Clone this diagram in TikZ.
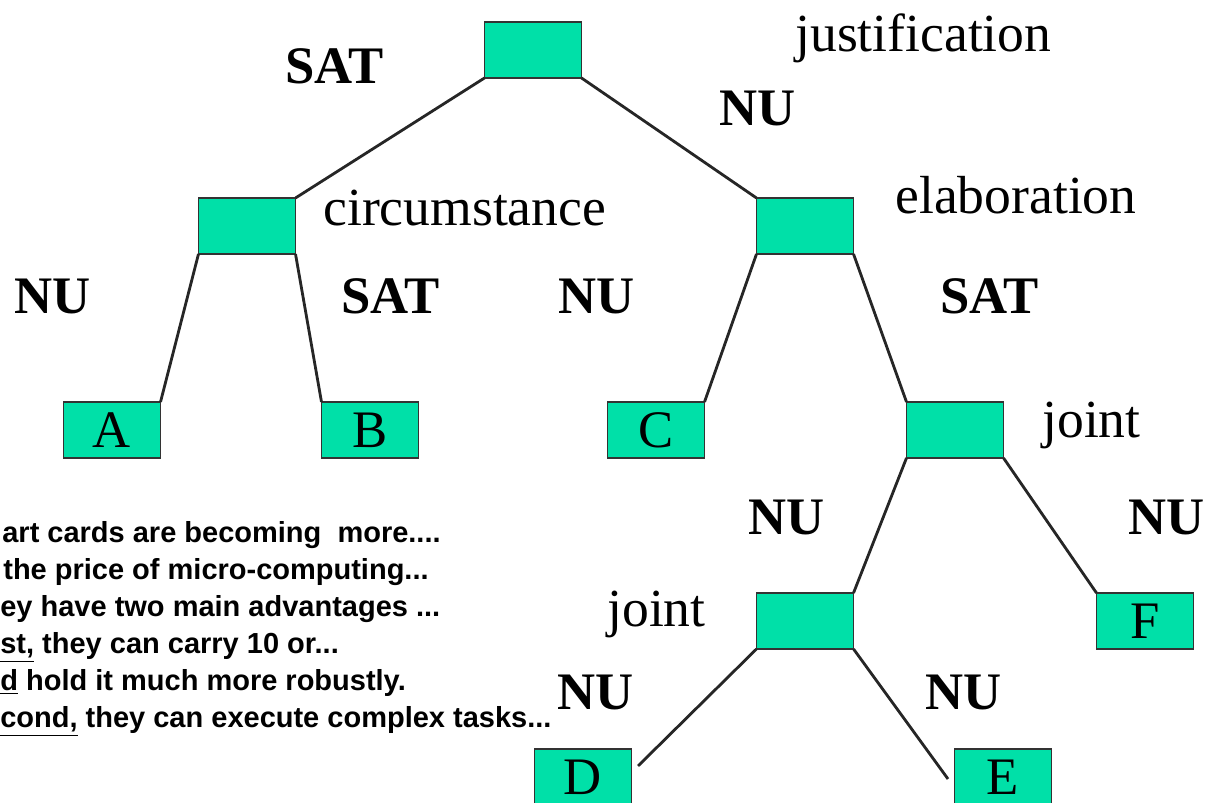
\documentclass[tikz,border=0pt]{standalone}
\usepackage{fontspec}
\setmainfont{Liberation Serif}
\newfontfamily\cardfont{Liberation Sans}
\usepackage{tkz-graph}

\definecolor{boxgreen}{RGB}{0,224,168}

\tikzset{relname/.style ={anchor=base west, inner sep=0pt, font=\fontsize{30.5}{36}\selectfont}}
\tikzset{nucl/.style ={anchor=base west, inner sep=0pt, font=\fontsize{30}{36}\selectfont\bfseries}}
\tikzset{cardline/.style ={anchor=base west, inner sep=0pt, font=\cardfont\bfseries\fontsize{16.5}{20}\selectfont}}

\begin{document}
\begin{tikzpicture}
\useasboundingbox (0,0) rectangle (24.16,16.06);
\GraphInit[vstyle=Empty]
\tikzset{VertexStyle/.style ={rectangle, draw=black!80, line width=.9pt, fill=boxgreen,
  minimum width=1.94cm, minimum height=1.12cm, inner sep=0pt, font=\fontsize{30}{36}\selectfont}}
\Vertex[x=10.66, y=15.06, NoLabel=true]{just}
\Vertex[x=4.94, y=11.54, NoLabel=true]{circ}
\Vertex[x=16.10, y=11.54, NoLabel=true]{elab}
\Vertex[x=2.24, y=7.46]{A}
\Vertex[x=7.40, y=7.46]{B}
\Vertex[x=13.12, y=7.46]{C}
\Vertex[x=19.10, y=7.46, NoLabel=true]{joinA}
\Vertex[x=16.10, y=3.64, NoLabel=true]{joinB}
\Vertex[x=22.90, y=3.64]{F}
\Vertex[x=11.66, y=0.52]{D}
\Vertex[x=20.06, y=0.52]{E}
\coordinate (dtip) at (12.76, 0.74);
\coordinate (etip) at (18.96, 0.48);
\tikzset{EdgeStyle/.style ={line width=1.6pt, black!85}}
\tikzset{LabelStyle/.style ={fill=none, draw=none}}
\Edge(just.south west)(circ.north east)
\Edge(just.south east)(elab.north west)
\Edge(circ.south west)(A.north east)
\Edge(circ.south east)(B.north west)
\Edge(elab.south west)(C.north east)
\Edge(elab.south east)(joinA.north west)
\Edge(joinA.south west)(joinB.north east)
\Edge(joinA.south east)(F.north west)
\Edge(joinB.south west)(dtip)
\Edge(joinB.south east)(etip)
% relation names
\node[relname] (rjust) at (15.90, 15.02) {justification};
\node[relname] (rcirc) at (6.46, 11.54) {circumstance};
\node[relname] (relab) at (17.90, 11.78) {elaboration};
\node[relname] (rjoinA) at (20.84, 7.30) {joint};
\node[relname] (rjoinB) at (12.14, 3.52) {joint};
% nuclearity
\node[nucl] (n1) at (5.70, 14.38) {SAT};
\node[nucl] (n2) at (14.38, 13.54) {NU};
\node[nucl] (n3) at (0.28, 9.78) {NU};
\node[nucl] (n4) at (6.82, 9.78) {SAT};
\node[nucl] (n5) at (11.16, 9.78) {NU};
\node[nucl] (n6) at (18.80, 9.78) {SAT};
\node[nucl] (n7) at (14.96, 5.36) {NU};
\node[nucl] (n8) at (22.56, 5.36) {NU};
\node[nucl] (n9) at (11.14, 1.86) {NU};
\node[nucl] (n10) at (18.50, 1.86) {NU};
% text
\node[cardline] (t1) at (0.04, 5.20) {art cards are becoming \ more....};
\node[cardline] (t2) at (0.06, 4.46) {the price of micro-computing...};
\node[cardline] (t3) at (0, 3.72) {ey have two main advantages ...};
\node[cardline] (t4) at (0, 2.98) {\underline{st,} they can carry 10 or...};
\node[cardline] (t5) at (0, 2.24) {\underline{d} hold it much more robustly.};
\node[cardline] (t6) at (0, 1.50) {\underline{cond,} they can execute complex tasks...};
\end{tikzpicture}
\end{document}
